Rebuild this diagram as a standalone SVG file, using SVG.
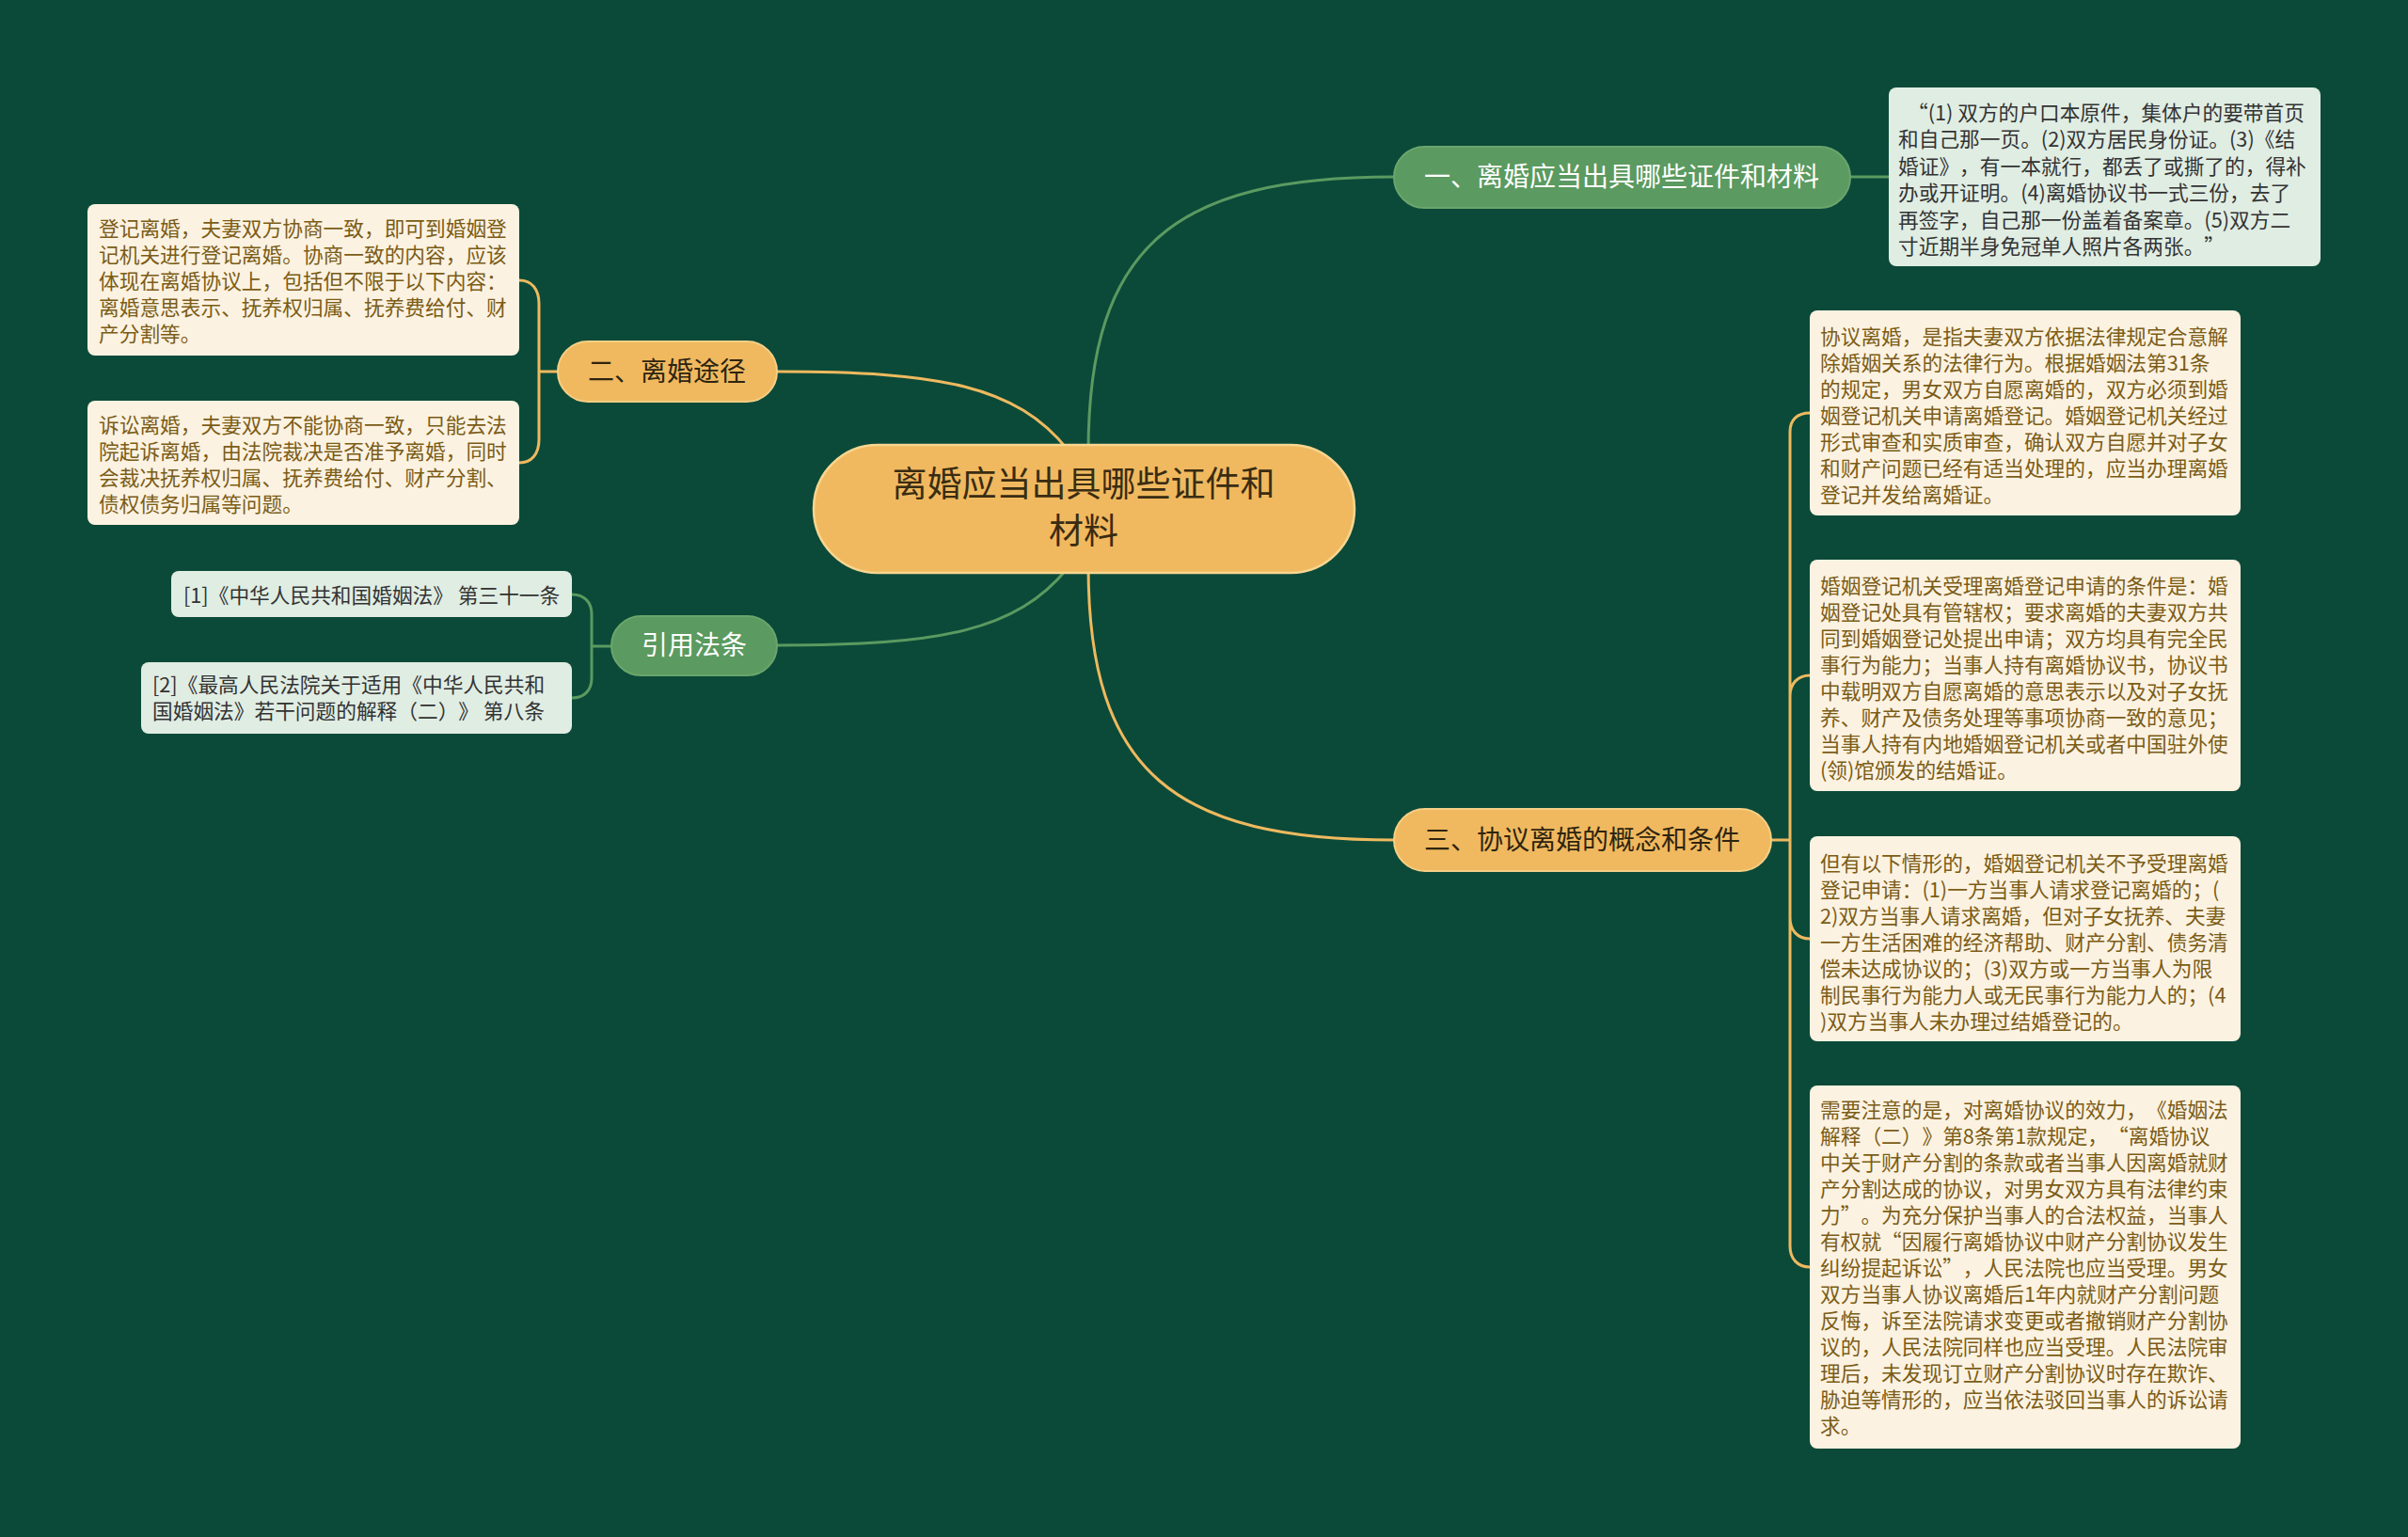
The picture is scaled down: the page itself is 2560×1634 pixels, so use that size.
<svg xmlns="http://www.w3.org/2000/svg" width="2560" height="1634" viewBox="0 0 2560 1634">
<style>
text{font-family:"Noto Sans CJK SC","Noto Sans",sans-serif;text-spacing-trim:space-all;}
.bg{fill:#0b4a39;}
.cg{fill:none;stroke:#5b9a60;stroke-width:3;}
.co{fill:none;stroke:#eeb95f;stroke-width:3;}
.pillG{fill:#5b9a60;stroke:#6aa66c;stroke-width:2;}
.pillO{fill:#f0b95f;stroke:#f6cf85;stroke-width:2;}
.center{fill:#f0b95f;stroke:#f8d68f;stroke-width:2.5;}
.leafC{fill:#fcf2e1;}
.leafM{fill:#e0ede3;}
.tW{fill:#ffffff;font-size:28px;text-anchor:middle;}
.tD{fill:#2e2410;font-size:28px;text-anchor:middle;}
.tC{fill:#3a2c12;font-size:37px;text-anchor:middle;}
.tL{fill:#7b5c16;font-size:21.7px;}
.tM{fill:#333333;font-size:21.7px;}
</style>
<rect class="bg" x="0" y="0" width="2560" height="1634"/>
<g id="connectors">
<path class="cg" d="M1157 480 C1157 260,1250 188,1482 188"/>
<path class="co" d="M826 395 C1000 395,1080 410,1135 478"/>
<path class="cg" d="M826 686 C1000 686,1080 671,1135 604"/>
<path class="co" d="M1157 602 C1157 822,1250 893,1482 893"/>
<path class="cg" d="M1967 188 H2008"/>
<path class="co" d="M593 395 H573 M573 395 V323 C573 307,565 298,552 298 M573 395 V467 C573 483,565 492,552 492"/>
<path class="cg" d="M650 687 H629 M629 687 V653 C629 640,621 632,608 632 M629 687 V721 C629 734,621 742,608 742"/>
<path class="co" d="M1883 893 H1903 M1903 893 V459 C1903 446,1911 439,1924 439 M1903 893 V740 C1903 727,1911 718,1924 718 M1903 893 V976 C1903 989,1911 998,1924 998 M1903 893 V1325 C1903 1338,1911 1347,1924 1347"/>
</g>
<g id="center">
<rect class="center" x="865" y="473" width="575" height="136" rx="68"/>
<text class="tC" x="1152" y="528">离婚应当出具哪些证件和</text>
<text class="tC" x="1152" y="578">材料</text>
</g>
<g id="branch1">
<rect class="pillG" x="1482" y="156" width="485" height="65" rx="32.5"/>
<text class="tW" x="1724" y="198">一、离婚应当出具哪些证件和材料</text>
</g>
<g id="branch2">
<rect class="pillO" x="593" y="363" width="233" height="64" rx="32"/>
<text class="tD" x="709" y="405">二、离婚途径</text>
</g>
<g id="branch-law">
<rect class="pillG" x="650" y="655" width="176" height="63" rx="31.5"/>
<text class="tW" x="738" y="696">引用法条</text>
</g>
<g id="branch3">
<rect class="pillO" x="1482" y="860" width="401" height="66" rx="33"/>
<text class="tD" x="1682" y="903">三、协议离婚的概念和条件</text>
</g>
<g id="leaf-materials">
<rect class="leafM" x="2008" y="93" width="459" height="190" rx="8"/>
<text class="tM">
<tspan x="2028" y="127.5">“(1) 双方的户口本原件，集体户的要带首页</tspan>
<tspan x="2018" y="156">和自己那一页。(2)双方居民身份证。(3)《结</tspan>
<tspan x="2018" y="184.5">婚证》，有一本就行，都丢了或撕了的，得补</tspan>
<tspan x="2018" y="213">办或开证明。(4)离婚协议书一式三份，去了</tspan>
<tspan x="2018" y="241.5">再签字，自己那一份盖着备案章。(5)双方二</tspan>
<tspan x="2018" y="270">寸近期半身免冠单人照片各两张。”</tspan>
</text>
</g>
<g id="leaf-r1">
<rect class="leafC" x="1924" y="330" width="458" height="218" rx="8"/>
<text class="tL">
<tspan x="1935" y="365.5">协议离婚，是指夫妻双方依据法律规定合意解</tspan>
<tspan x="1935" y="393.5">除婚姻关系的法律行为。根据婚姻法第31条</tspan>
<tspan x="1935" y="421.5">的规定，男女双方自愿离婚的，双方必须到婚</tspan>
<tspan x="1935" y="449.5">姻登记机关申请离婚登记。婚姻登记机关经过</tspan>
<tspan x="1935" y="477.5">形式审查和实质审查，确认双方自愿并对子女</tspan>
<tspan x="1935" y="505.5">和财产问题已经有适当处理的，应当办理离婚</tspan>
<tspan x="1935" y="533.5">登记并发给离婚证。</tspan>
</text>
</g>
<g id="leaf-r2">
<rect class="leafC" x="1924" y="595" width="458" height="246" rx="8"/>
<text class="tL">
<tspan x="1935" y="630.5">婚姻登记机关受理离婚登记申请的条件是：婚</tspan>
<tspan x="1935" y="658.5">姻登记处具有管辖权；要求离婚的夫妻双方共</tspan>
<tspan x="1935" y="686.5">同到婚姻登记处提出申请；双方均具有完全民</tspan>
<tspan x="1935" y="714.5">事行为能力；当事人持有离婚协议书，协议书</tspan>
<tspan x="1935" y="742.5">中载明双方自愿离婚的意思表示以及对子女抚</tspan>
<tspan x="1935" y="770.5">养、财产及债务处理等事项协商一致的意见；</tspan>
<tspan x="1935" y="798.5">当事人持有内地婚姻登记机关或者中国驻外使</tspan>
<tspan x="1935" y="826.5">(领)馆颁发的结婚证。</tspan>
</text>
</g>
<g id="leaf-r3">
<rect class="leafC" x="1924" y="889" width="458" height="218" rx="8"/>
<text class="tL">
<tspan x="1935" y="925.5">但有以下情形的，婚姻登记机关不予受理离婚</tspan>
<tspan x="1935" y="953.5">登记申请：(1)一方当事人请求登记离婚的；(</tspan>
<tspan x="1935" y="981.5">2)双方当事人请求离婚，但对子女抚养、夫妻</tspan>
<tspan x="1935" y="1009.5">一方生活困难的经济帮助、财产分割、债务清</tspan>
<tspan x="1935" y="1037.5">偿未达成协议的；(3)双方或一方当事人为限</tspan>
<tspan x="1935" y="1065.5">制民事行为能力人或无民事行为能力人的；(4</tspan>
<tspan x="1935" y="1093.5">)双方当事人未办理过结婚登记的。</tspan>
</text>
</g>
<g id="leaf-r4">
<rect class="leafC" x="1924" y="1154" width="458" height="386" rx="8"/>
<text class="tL">
<tspan x="1935" y="1187.5">需要注意的是，对离婚协议的效力，《婚姻法</tspan>
<tspan x="1935" y="1215.5">解释（二）》第8条第1款规定，“离婚协议</tspan>
<tspan x="1935" y="1243.5">中关于财产分割的条款或者当事人因离婚就财</tspan>
<tspan x="1935" y="1271.5">产分割达成的协议，对男女双方具有法律约束</tspan>
<tspan x="1935" y="1299.5">力”。为充分保护当事人的合法权益，当事人</tspan>
<tspan x="1935" y="1327.5">有权就“因履行离婚协议中财产分割协议发生</tspan>
<tspan x="1935" y="1355.5">纠纷提起诉讼”，人民法院也应当受理。男女</tspan>
<tspan x="1935" y="1383.5">双方当事人协议离婚后1年内就财产分割问题</tspan>
<tspan x="1935" y="1411.5">反悔，诉至法院请求变更或者撤销财产分割协</tspan>
<tspan x="1935" y="1439.5">议的，人民法院同样也应当受理。人民法院审</tspan>
<tspan x="1935" y="1467.5">理后，未发现订立财产分割协议时存在欺诈、</tspan>
<tspan x="1935" y="1495.5">胁迫等情形的，应当依法驳回当事人的诉讼请</tspan>
<tspan x="1935" y="1523.5">求。</tspan>
</text>
</g>
<g id="leaf-l1">
<rect class="leafC" x="93" y="217" width="459" height="161" rx="8"/>
<text class="tL">
<tspan x="105" y="250.5">登记离婚，夫妻双方协商一致，即可到婚姻登</tspan>
<tspan x="105" y="278.5">记机关进行登记离婚。协商一致的内容，应该</tspan>
<tspan x="105" y="306.5">体现在离婚协议上，包括但不限于以下内容：</tspan>
<tspan x="105" y="334.5">离婚意思表示、抚养权归属、抚养费给付、财</tspan>
<tspan x="105" y="362.5">产分割等。</tspan>
</text>
</g>
<g id="leaf-l2">
<rect class="leafC" x="93" y="426" width="459" height="132" rx="8"/>
<text class="tL">
<tspan x="105" y="459.5">诉讼离婚，夫妻双方不能协商一致，只能去法</tspan>
<tspan x="105" y="487.5">院起诉离婚，由法院裁决是否准予离婚，同时</tspan>
<tspan x="105" y="515.5">会裁决抚养权归属、抚养费给付、财产分割、</tspan>
<tspan x="105" y="543.5">债权债务归属等问题。</tspan>
</text>
</g>
<g id="law-1">
<rect class="leafM" x="182" y="607" width="426" height="49" rx="8"/>
<text class="tM" x="195" y="640.5">[1]《中华人民共和国婚姻法》 第三十一条</text>
</g>
<g id="law-2">
<rect class="leafM" x="150" y="704" width="458" height="76" rx="8"/>
<text class="tM">
<tspan x="162" y="735.5">[2]《最高人民法院关于适用《中华人民共和</tspan>
<tspan x="162" y="764">国婚姻法》若干问题的解释（二）》 第八条</tspan>
</text>
</g>
</svg>
